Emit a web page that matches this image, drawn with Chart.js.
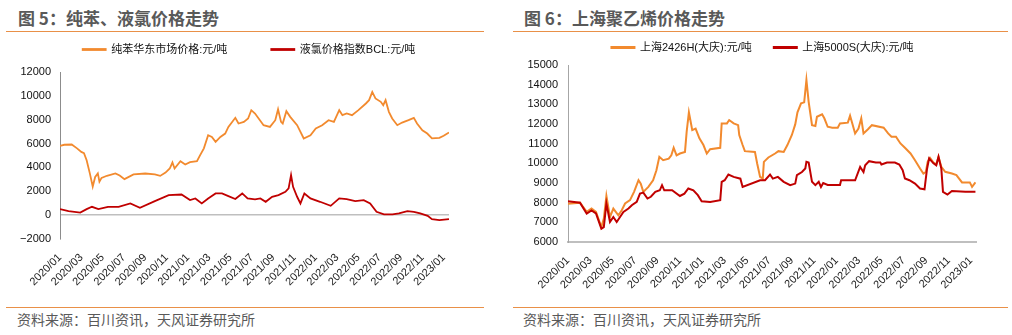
<!DOCTYPE html>
<html>
<head>
<meta charset="utf-8">
<script src="https://cdn.jsdelivr.net/npm/chart.js@4.4.0/dist/chart.umd.min.js"></script>
<style>
  body { margin: 0; width: 1012px; height: 335px; background: #fff; position: relative; overflow: hidden; font-family: 'Noto Sans CJK SC', sans-serif; }
  .title { position: absolute; top: 9px; font-size: 17px; line-height: 17px; font-weight: bold; color: #595959; white-space: nowrap; }
  .rule { position: absolute; height: 1px; background: #E99048; }
  .source { position: absolute; top: 311px; font-size: 14px; line-height: 16px; color: #595959; white-space: nowrap; }
  canvas { position: absolute; }
</style>
</head>
<body>
<div class="title" style="left:18px">图 5：纯苯、液氯价格走势</div>
<div class="rule" style="left:6px; width:478px; top:31px"></div>
<div class="title" style="left:524px">图 6：上海聚乙烯价格走势</div>
<div class="rule" style="left:513px; width:495px; top:31px"></div>

<canvas id="leftChart" width="490" height="296" style="left:0; top:0"></canvas>
<canvas id="rightChart" width="506" height="276" style="left:506px; top:20px"></canvas>

<div class="rule" style="left:6px; width:478px; top:307px"></div>
<div class="source" style="left:17px">资料来源：百川资讯，天风证券研究所</div>
<div class="rule" style="left:513px; width:495px; top:307px"></div>
<div class="source" style="left:523px">资料来源：百川资讯，天风证券研究所</div>

<script>
// x labels, one every 2 months; x values below are months since 2020/01
var monthLabels = ['2020/01', '2020/03', '2020/05', '2020/07', '2020/09', '2020/11',
    '2021/01', '2021/03', '2021/05', '2021/07', '2021/09', '2021/11',
    '2022/01', '2022/03', '2022/05', '2022/07', '2022/09', '2022/11', '2023/01'];

// 图5 纯苯华东市场价格
var benzeneMonths = [0, 0.4, 1.1, 1.6, 2, 2.25, 2.5, 2.8, 3.07, 3.3, 3.55, 3.7, 3.9, 4.4, 5.2, 5.6, 6.05, 6.9, 8, 8.9,
    9.4, 9.9, 10.3, 10.55, 10.75, 11.3, 11.75, 12.2, 12.85, 13.15, 13.5, 13.9, 14.25, 14.6, 15.05, 15.5, 15.8, 16.45, 16.75, 17.25,
    17.65, 17.95, 18.3, 19.1, 19.7, 20.2, 20.46, 20.74, 20.9, 21.24, 21.6, 22.25, 22.87, 23.5, 24, 24.6, 25.2, 25.7, 26.2, 26.5,
    26.9, 27.4, 28, 28.7, 29, 29.3, 29.6, 30.1, 30.33, 30.55, 30.86, 31.17, 31.65, 32.1, 32.7, 33.2, 33.5, 34, 34.46, 34.9,
    35.6, 36, 36.5];
var benzenePrices = [5800, 5900, 5920, 5600, 5300, 5200, 4600, 3500, 2400, 3200, 3500, 2800, 3120, 3300, 3500, 3320, 3020, 3410, 3490, 3410,
    3290, 3570, 3910, 4410, 3910, 4520, 4250, 4440, 4520, 5030, 5600, 6700, 6560, 6140, 6560, 6840, 7400, 8160, 7680, 7820,
    8100, 8800, 8520, 7540, 7400, 7960, 8880, 7820, 7680, 8720, 8240, 7540, 6430, 6700, 7270, 7540, 7960, 7820, 8800, 8380,
    8520, 8380, 8800, 9360, 9640, 10330, 9780, 9500, 9220, 9640, 8660, 8100, 7540, 7760, 7960, 8160, 7680, 7120, 6840, 6430,
    6480, 6650, 6930];

// 图5 液氯价格指数BCL
var chlorineMonths = [0, 0.8, 1.9, 2.5, 3, 3.6, 4.5, 5.5, 6.6, 7.5, 8.9, 10.2, 11.4, 12.2, 12.7, 13.3, 13.9, 14.6, 15.2, 15.8,
    16.45, 17.1, 17.6, 18.3, 18.8, 19.3, 19.9, 20.5, 21.15, 21.45, 21.68, 21.87, 22.25, 22.56, 22.93, 23.5, 24.4, 25.4, 26.2, 26.9,
    27.7, 28.5, 29.1, 29.7, 30.4, 31.2, 31.8, 32.6, 33.2, 33.8, 34.5, 34.9, 35.6, 36.5];
var chlorinePrices = [500, 340, 220, 500, 700, 500, 700, 700, 980, 610, 1170, 1680, 1730, 1260, 1400, 980, 1400, 1820, 1820, 1600,
    1350, 1820, 1400, 1320, 1400, 1120, 1540, 1680, 1960, 2240, 3350, 2370, 1540, 980, 1820, 1400, 1120, 780, 1400, 1350,
    1170, 1260, 980, 280, 60, 60, 140, 340, 280, 140, -60, -340, -420, -340];

// 图6 上海2426H(大庆)
var pe2426Months = [0, 1.07, 1.67, 2.1, 2.5, 2.98, 3.2, 3.43, 3.75, 4.05, 4.5, 4.8, 5.1, 5.54, 5.9, 6.3, 6.5, 6.73, 7.18, 7.6,
    7.9, 8.16, 8.5, 9, 9.23, 9.44, 9.7, 10, 10.45, 10.6, 10.8, 10.9, 11.1, 11.4, 11.74, 12.1, 12.4, 12.7, 13.6, 13.73,
    14.2, 14.4, 14.8, 15.2, 15.3, 15.6, 15.8, 16.7, 16.9, 17.16, 17.4, 17.5, 17.9, 18.5, 18.8, 19.27, 19.6, 20, 20.3, 20.5,
    20.82, 21.1, 21.3, 21.5, 21.8, 22.1, 22.24, 22.7, 22.9, 23.2, 23.6, 24.1, 24.3, 25, 25.2, 25.4, 25.65, 25.95, 26.2, 26.4,
    26.8, 27.15, 28.2, 28.6, 28.9, 29.3, 29.7, 30.1, 30.6, 31, 31.45, 31.75, 31.97, 32.13, 32.34, 32.65, 32.9, 33.1, 33.35, 33.7,
    34.3, 34.7, 35.2, 35.9, 36.1, 36.4];
var pe2426Prices = [7950, 8000, 7530, 7700, 7530, 6760, 7190, 8340, 7270, 7700, 7360, 7615, 7960, 8130, 8550, 9140, 8970, 8550, 8800, 9140,
    9650, 10330, 10160, 10240, 10410, 10790, 10410, 10500, 10580, 11600, 12590, 12290, 11690, 11770, 11270, 10930, 10500, 10720, 10790, 12030,
    12030, 12200, 12030, 11940, 11440, 10930, 10620, 10580, 9990, 9310, 9220, 10075, 10300, 10500, 10620, 10580, 10930, 11440, 11980, 12590,
    13050, 13100, 14240, 13130, 11940, 11900, 12370, 12490, 12290, 11860, 11810, 11810, 12030, 12070, 12420, 12030, 11520, 11770, 12290, 11520,
    11730, 11940, 11810, 11520, 11350, 11350, 11010, 10790, 10500, 10160, 9740, 9480, 9560, 10075, 10280, 10040, 9940, 10330, 9820, 9570,
    9480, 9400, 9030, 9030, 8800, 9030];

// 图6 上海5000S(大庆)
var pe5000Months = [0, 1.07, 1.67, 2.1, 2.5, 2.98, 3.2, 3.43, 3.75, 4.05, 4.35, 4.65, 4.95, 5.4, 5.7, 6.14, 6.43, 6.73, 7.1, 7.4,
    7.8, 8.2, 8.4, 8.6, 9.3, 10, 10.4, 10.75, 11.2, 11.6, 11.94, 12.7, 13.6, 13.73, 14, 14.33, 14.8, 15.4, 15.6, 17.16,
    17.6, 18.05, 18.3, 18.75, 19.27, 19.85, 20.3, 20.45, 20.9, 21.2, 21.3, 21.5, 21.8, 22.1, 22.4, 22.6, 22.8, 23.2, 24.3, 24.4,
    25.65, 26.1, 26.4, 26.55, 26.9, 27.5, 27.9, 28, 28.5, 29.2, 29.6, 29.9, 30.1, 30.5, 31, 31.45, 31.85, 32.07, 32.26, 32.65,
    32.9, 33.1, 33.35, 33.5, 33.9, 34.3, 35.5, 36.4];
var pe5000Prices = [8070, 8000, 7450, 7610, 7450, 6680, 6760, 7960, 7020, 7270, 7020, 7270, 7530, 7700, 7870, 8040, 8460, 8510, 8210, 8300,
    8550, 8630, 8890, 8630, 8630, 8340, 8460, 8720, 8630, 8380, 8070, 8040, 8130, 9060, 9140, 9430, 9310, 9220, 8800, 9140,
    9140, 9430, 9220, 9310, 9060, 8890, 8970, 9400, 9560, 9740, 10075, 10040, 9060, 8890, 9060, 8800, 9000, 8900, 8900, 9140,
    9140, 9820, 9560, 9900, 10110, 10040, 10040, 9940, 10040, 10040, 9940, 9650, 9230, 9140, 8970, 8720, 8680, 9700, 10250, 10000,
    9900, 10330, 9740, 8550, 8410, 8590, 8550, 8550];

var ORANGE = '#F28A2E';
var RED = '#C00000';
var FONT = "'Liberation Sans', 'Noto Sans CJK SC', sans-serif";

function points(xs, ys) {
    return xs.map(function(x, i) { return {x: x, y: ys[i]}; });
}

// fixes the legend height so the plot area starts where it should
function legendHeight(h) {
    return {
        id: 'legendHeight',
        beforeUpdate: function(chart) {
            if (chart.legend && !chart.legend._fixed) {
                var fit = chart.legend.fit;
                chart.legend.fit = function() { fit.call(this); this.height = h; };
                chart.legend._fixed = true;
            }
        }
    };
}

function xAxis(maxMonth, height, border) {
    return {
        type: 'linear',
        min: 0,
        max: maxMonth,
        grid: { display: false },
        border: border,
        afterBuildTicks: function(axis) {
            axis.ticks = monthLabels.map(function(l, i) { return {value: i * 2}; });
        },
        afterFit: function(axis) { axis.height = height; },
        ticks: {
            autoSkip: false,
            minRotation: 45,
            maxRotation: 45,
            padding: 4,
            color: '#222',
            font: { family: FONT, size: 11 },
            callback: function(v) { return monthLabels[v / 2]; }
        }
    };
}

// empty axis on the right, only takes room so the legend is centred like the original
function spacerAxis(width) {
    return {
        position: 'right',
        display: true,
        grid: { display: false },
        border: { display: false },
        ticks: { display: false },
        afterFit: function(axis) { axis.width = width; }
    };
}

function lineSet(label, data, color, order, width) {
    return {
        label: label,
        data: data,
        borderColor: color,
        backgroundColor: color,
        borderWidth: width,
        pointRadius: 0,
        tension: 0,
        order: order
    };
}

function legendOpts(padding) {
    return {
        labels: {
            boxWidth: 23, boxHeight: 1, padding: padding, color: '#111',
            font: { family: FONT, size: 11 },
            sort: function(a, b) { return a.datasetIndex - b.datasetIndex; }
        }
    };
}

var ctx = document.getElementById('leftChart').getContext('2d');
var leftChart = new Chart(ctx, {
    type: 'line',
    data: {
        datasets: [
            lineSet('纯苯华东市场价格:元/吨', points(benzeneMonths, benzenePrices), ORANGE, 1, 1.8),
            lineSet('液氯价格指数BCL:元/吨', points(chlorineMonths, chlorinePrices), RED, 0, 1.8)
        ]
    },
    options: {
        responsive: false,
        animation: false,
        layout: { padding: { left: 10, right: 2, top: 0, bottom: 0 } },
        plugins: {
            legend: legendOpts(44),
            tooltip: { enabled: false }
        },
        scales: {
            x: xAxis(36.5, 57, { display: false }),
            y: {
                min: -2000,
                max: 12000,
                afterFit: function(axis) { axis.width = 50; },
                border: { color: '#8C8C8C', width: 1 },
                grid: {
                    drawTicks: false,
                    lineWidth: 1.6,
                    color: function(c) { return c.tick && c.tick.value === 0 ? '#BFBFBF' : 'rgba(0,0,0,0)'; }
                },
                ticks: {
                    stepSize: 2000,
                    padding: 9,
                    color: '#111',
                    font: { family: FONT, size: 11 },
                    callback: function(v) { return v < 0 ? '\u2212' + Math.abs(v) : String(v); }
                }
            },
            spacer: spacerAxis(39)
        }
    },
    plugins: [legendHeight(72)]
});

var ctx2 = document.getElementById('rightChart').getContext('2d');
var rightChart = new Chart(ctx2, {
    type: 'line',
    data: {
        datasets: [
            lineSet('上海2426H(大庆):元/吨', points(pe2426Months, pe2426Prices), ORANGE, 1, 2),
            lineSet('上海5000S(大庆):元/吨', points(pe5000Months, pe5000Prices), RED, 0, 2)
        ]
    },
    options: {
        responsive: false,
        animation: false,
        layout: { padding: { left: 10, right: 3, top: 0, bottom: 0 } },
        plugins: {
            legend: legendOpts(22),
            tooltip: { enabled: false }
        },
        scales: {
            x: xAxis(36.45, 54, { color: '#BFBFBF', width: 2 }),
            y: {
                min: 6000,
                max: 15000,
                afterFit: function(axis) { axis.width = 52; },
                border: { color: '#A6A6A6', width: 1 },
                grid: { display: false, drawTicks: false },
                ticks: {
                    stepSize: 1000,
                    padding: 10,
                    color: '#111',
                    font: { family: FONT, size: 11 },
                    callback: function(v) { return String(v); }
                }
            },
            spacer: spacerAxis(33)
        }
    },
    plugins: [legendHeight(45)]
});
</script>
</body>
</html>
